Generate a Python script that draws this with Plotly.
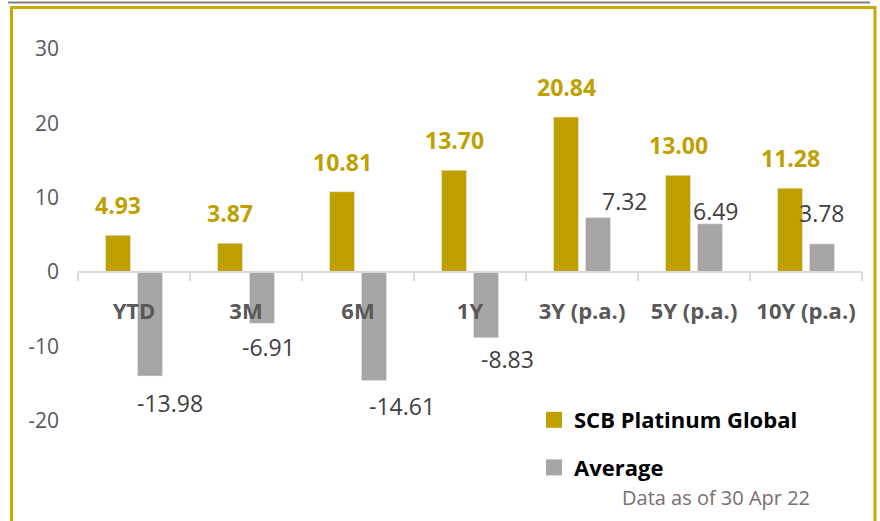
import plotly.graph_objects as go

categories = ["YTD", "3M", "6M", "1Y", "3Y (p.a.)", "5Y (p.a.)", "10Y (p.a.)"]
fund_values = [4.93, 3.87, 10.81, 13.70, 20.84, 13.00, 11.28]
avg_values = [-13.98, -6.91, -14.61, -8.83, 7.32, 6.49, 3.78]
y_ticks = [-20, -10, 0, 10, 20, 30]
y_tick_text = ["-20", "-10", "0", "10", "20", "30"]
fund_name = "SCB Platinum Global"
avg_name = "Average"
note_text = "Data as of 30 Apr 22"

# label nudges (pixels) for the Average labels, as placed in the original chart
avg_label_dx = [20, 6, 28, 21, 27, 6, 0]
avg_label_dy = [27, 23.5, 25, 21.7, 16.5, 12.3, 30.5]

GOLD = "#C0A000"
GREY = "#A6A6A6"

fig = go.Figure()
fig.add_trace(go.Bar(x=categories, y=fund_values, name=fund_name, marker_color=GOLD,
                     showlegend=False, hoverinfo="skip"))
fig.add_trace(go.Bar(x=categories, y=avg_values, name=avg_name, marker_color=GREY,
                     showlegend=False, hoverinfo="skip"))

# legend entries (square markers)
fig.add_trace(go.Scatter(x=[None], y=[None], mode="markers", name=fund_name,
                         marker=dict(symbol="square", size=16, color=GOLD),
                         legendgroup="a"))
fig.add_trace(go.Scatter(x=[None], y=[None], mode="markers", name=avg_name,
                         marker=dict(symbol="square", size=16, color=GREY),
                         legendgroup="b"))

annotations = []
for c, v in zip(categories, fund_values):
    annotations.append(dict(x=c, y=v, xref="x", yref="y", text=f"{v:.2f}",
                            showarrow=False, xshift=-16, yshift=30, yanchor="middle",
                            font=dict(family="Open Sans", size=23, color=GOLD, weight="bold")))
for c, v, dx, dy in zip(categories, avg_values, avg_label_dx, avg_label_dy):
    annotations.append(dict(x=c, y=v, xref="x", yref="y", text=f"{v:.2f}",
                            showarrow=False, xshift=16 + dx,
                            yshift=(dy if v >= 0 else -dy), yanchor="middle",
                            font=dict(family="Open Sans", size=23, color="#404040")))
annotations.append(dict(x=(716 - 78) / 784, y=(495 - 497) / 446, xref="paper", yref="paper",
                        text=note_text, showarrow=False, xanchor="center", yanchor="middle",
                        font=dict(family="Open Sans", size=20, color="#7A6E6E")))

shapes = [
    dict(type="line", xref="paper", yref="paper", x0=(8 - 78) / 784, x1=(870 - 78) / 784,
         y0=(495 - 2.5) / 446, y1=(495 - 2.5) / 446, line=dict(color="#808080", width=2)),
    dict(type="rect", xref="paper", yref="paper", x0=(11.5 - 78) / 784, x1=(875 - 78) / 784,
         y0=(495 - 540) / 446, y1=(495 - 7.5) / 446, line=dict(color="#C9A800", width=3)),
]

fig.update_layout(
    width=880, height=521,
    margin=dict(l=78, r=18, t=49, b=26),
    paper_bgcolor="white", plot_bgcolor="white",
    barmode="group", bargap=0.4286, bargroupgap=0.22,
    font=dict(family="Open Sans", color="#595959"),
    showlegend=True,
    legend=dict(x=(534 - 78) / 784, y=(495 - 399) / 446, xanchor="left", yanchor="top",
                bgcolor="rgba(0,0,0,0)", tracegroupgap=16,
                font=dict(family="Open Sans", size=22, color="#000000", weight="bold")),
    annotations=annotations,
    shapes=shapes,
    hovermode=False,
)
fig.update_xaxes(type="category", anchor="free", position=0.5, showline=True,
                 linecolor="#D9D9D9", linewidth=2, ticks="outside", tickson="boundaries",
                 ticklen=8, tickwidth=2, tickcolor="#D9D9D9", showgrid=False,
                 ticklabelstandoff=20,
                 tickfont=dict(family="Open Sans", size=22, color="#595959", weight="bold"))
fig.update_yaxes(range=[-30, 30], tickvals=y_ticks, ticktext=y_tick_text, showgrid=False,
                 zeroline=False, showline=False, ticks="", ticklabelstandoff=18,
                 tickfont=dict(family="Open Sans", size=21, color="#595959"))

fig.write_html("out.html", config={"displayModeBar": False},
               post_script="document.body.style.margin='0px';")
